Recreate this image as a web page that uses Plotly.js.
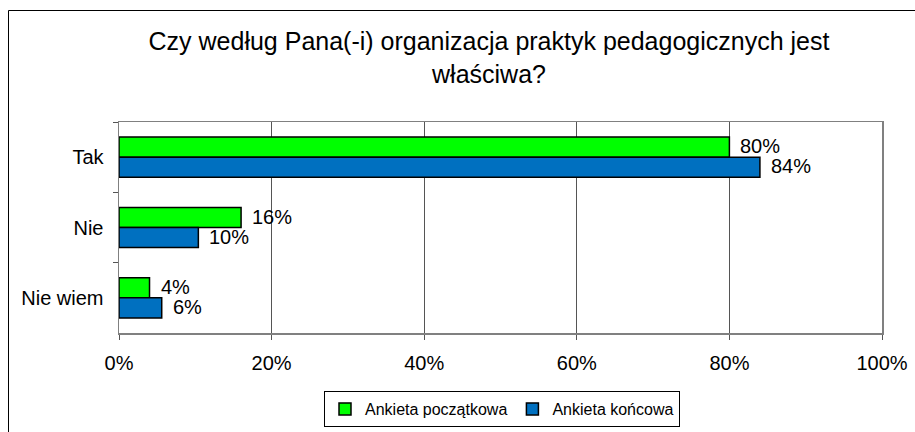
<!DOCTYPE html>
<html>
<head>
<meta charset="utf-8">
<script src="https://cdn.plot.ly/plotly-3.0.1.min.js"></script>
<style>html,body{margin:0;padding:0;background:#fff}#chart{width:915px;height:432px}</style>
</head>
<body>
<div id="chart"></div>
<script>
const categories = ["Tak", "Nie", "Nie wiem"];
const seriesNames = ["Ankieta początkowa", "Ankieta końcowa"];
const startValues = [0.80, 0.16, 0.04];
const endValues = [0.84, 0.104, 0.056];
const xTickValues = [0, 0.2, 0.4, 0.6, 0.8, 1.0];
const xTickLabels = ["0%", "20%", "40%", "60%", "80%", "100%"];
const titleText = "Czy według Pana(-i) organizacja praktyk pedagogicznych jest<br>właściwa?";

const FONT = "Liberation Sans, Arial, sans-serif";
const L = 119, R = 33, T = 122, B = 99;
const W = 915, H = 432;
const pw = W - L - R, ph = H - T - B;

const traces = [
  {type: "bar", orientation: "h", name: seriesNames[0], y: categories, x: startValues,
   marker: {color: "#00FF00", line: {color: "#000000", width: 1.5}}, hoverinfo: "skip"},
  {type: "bar", orientation: "h", name: seriesNames[1], y: categories, x: endValues,
   marker: {color: "#0070C0", line: {color: "#000000", width: 1.5}}, hoverinfo: "skip"}
];

const fmt = v => Math.round(v * 100) + "%";
const annotations = [];
categories.forEach((c, i) => {
  annotations.push({x: startValues[i], y: c, xref: "x", yref: "y", text: fmt(startValues[i]),
    showarrow: false, xanchor: "left", yanchor: "middle", xshift: 9, yshift: 11,
    font: {family: FONT, size: 20, color: "#000"}});
  annotations.push({x: endValues[i], y: c, xref: "x", yref: "y", text: fmt(endValues[i]),
    showarrow: false, xanchor: "left", yanchor: "middle", xshift: 9, yshift: -9,
    font: {family: FONT, size: 20, color: "#000"}});
});

const px2x = p => (p - L) / pw;
const py2y = p => 1 - (p - T) / ph;

const layout = {
  width: W, height: H,
  margin: {l: L, r: R, t: T, b: B, pad: 0, autoexpand: false},
  paper_bgcolor: "#ffffff", plot_bgcolor: "#ffffff",
  font: {family: FONT, size: 20, color: "#000"},
  title: {text: titleText, font: {family: FONT, size: 25, color: "#000"},
          x: px2x(489), xref: "paper", xanchor: "center",
          y: 1 - 50 / H, yref: "container", yanchor: "top"},
  barmode: "group", bargap: 0.43, bargroupgap: 0,
  showlegend: true,
  legend: {orientation: "h", x: px2x(502), xanchor: "center", y: py2y(391), yanchor: "top",
           bordercolor: "#000", borderwidth: 1, bgcolor: "#fff",
           font: {family: FONT, size: 16, color: "#000"}, itemwidth: 30, traceorder: "normal"},
  xaxis: {range: [0, 1], tickvals: xTickValues, ticktext: xTickLabels,
          showgrid: true, gridcolor: "#555555", gridwidth: 1,
          showline: true, linecolor: "#808080", linewidth: 1.5, mirror: true,
          ticks: "outside", ticklen: 5, tickcolor: "#555555", ticklabelstandoff: 6,
          tickfont: {family: FONT, size: 20, color: "#000"}, zeroline: false, fixedrange: true},
  yaxis: {autorange: "reversed", type: "category",
          showgrid: false, showline: true, linecolor: "#808080", linewidth: 1.5, mirror: true,
          ticks: "outside", ticklen: 5, tickcolor: "#555555", tickson: "boundaries",
          ticklabelstandoff: 10,
          tickfont: {family: FONT, size: 20, color: "#000"}, fixedrange: true},
  annotations: annotations,
  shapes: [
    {type: "line", xref: "paper", yref: "paper", x0: px2x(8.5), x1: px2x(8.5), y0: py2y(H), y1: py2y(10.5),
     line: {color: "#000", width: 1}},
    {type: "line", xref: "paper", yref: "paper", x0: px2x(8.5), x1: px2x(W), y0: py2y(10.5), y1: py2y(10.5),
     line: {color: "#000", width: 1}}
  ]
};

Plotly.newPlot("chart", traces, layout, {staticPlot: true, displayModeBar: false});
</script>
</body>
</html>
